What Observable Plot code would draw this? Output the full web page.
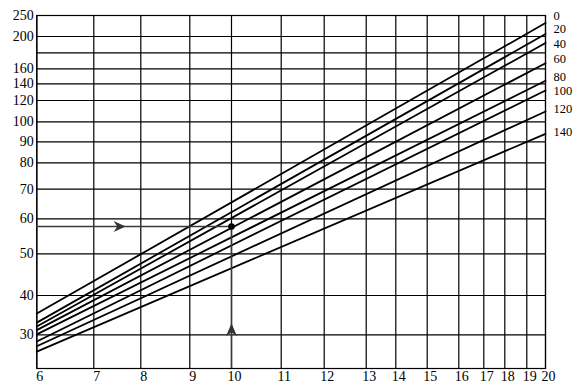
<!DOCTYPE html>
<html><head><meta charset="utf-8">
<script src="https://cdn.jsdelivr.net/npm/d3@7"></script>
<script src="https://cdn.jsdelivr.net/npm/@observablehq/plot@0.6"></script>
<style>html,body{margin:0;padding:0;background:#fff} svg{display:block}</style>
</head><body><div id="chart"></div>
<script>
// tick labels / grid values
const xTicks = [6,7,8,9,10,11,12,13,14,15,16,17,18,19,20];
const yTicks = [30,40,50,60,70,80,90,100,120,140,160,200,250];
const yGrid  = [30,40,50,60,70,80,90,100,120,140,160,180,200,250];
const yMin = 25, yMax = 250;
// series (lines labelled on the right), values at x=6 and x=20
const seriesNames = ["0","20","40","60","80","100","120","140"];
const startValues = [35.4, 33.1, 32.1, 31.2, 30.1, 29.0, 28.3, 27.5];
const endValues   = [232, 206, 192, 167, 144, 132, 109.7, 94];
// where each series name sits on the right edge (value units)
const labelValues = [248.8, 216.7, 191.4, 172.5, 149.7, 131.6, 112.2, 94.8];
// reading example
const readX = 10, readY = 57.8;
const arrowHeadX = 7.55, arrowHeadY = 31.3;

const xStart = xTicks[0], xEnd = xTicks[xTicks.length - 1];
const rows = seriesNames.flatMap((s, i) => [
  {s, x: xStart, y: startValues[i]},
  {s, x: xEnd, y: endValues[i]}
]);

const arrowRight = {draw(ctx, size){ const r = Math.sqrt(size/Math.PI);
  ctx.moveTo(r,0); ctx.lineTo(-r,-0.9*r); ctx.lineTo(-0.4*r,0); ctx.lineTo(-r,0.9*r); ctx.closePath(); }};
const arrowUp = {draw(ctx, size){ const r = Math.sqrt(size/Math.PI);
  ctx.moveTo(0,-r); ctx.lineTo(0.85*r,r); ctx.lineTo(0,0.4*r); ctx.lineTo(-0.85*r,r); ctx.closePath(); }};

const chart = Plot.plot({
  width: 588, height: 389,
  marginLeft: 36.3, marginRight: 43, marginTop: 15, marginBottom: 21,
  style: {fontFamily: "'Liberation Serif', 'DejaVu Serif', serif", fontSize: "14px", color: "#000", background: "#fff"},
  x: {type: "linear", domain: xTicks, range: [36.3,93.3,140.3,189.3,231,280.7,323.7,365.7,395.3,426.7,458.3,483.3,504.3,526.3,545]},
  y: {type: "linear", domain: [yMin, ...yGrid], range: [368,334.3,295,253.3,218.3,188.7,162.3,141.3,121.3,100,83.3,68.3,52.3,36,15]},
  marks: [
    Plot.ruleX(xTicks, {stroke: "#000", strokeWidth: 1.2}),
    Plot.ruleY(yGrid, {stroke: "#000", strokeWidth: 1.2}),
    Plot.frame({stroke: "#000", strokeWidth: 1.2}),
    Plot.line(rows, {x: "x", y: "y", z: "s", stroke: "#000", strokeWidth: 1.8}),
    Plot.line([{x: xStart, y: readY}, {x: readX, y: readY}], {x: "x", y: "y", stroke: "#3a3a3a", strokeWidth: 1.5}),
    Plot.ruleX([readX], {y1: yMin, y2: readY, stroke: "#3a3a3a", strokeWidth: 1.5}),
    Plot.dot([{x: arrowHeadX, y: readY}], {x: "x", y: "y", symbol: arrowRight, r: 6, fill: "#333", stroke: "none"}),
    Plot.dot([{x: readX, y: arrowHeadY}], {x: "x", y: "y", symbol: arrowUp, r: 6.5, fill: "#333", stroke: "none"}),
    Plot.dot([{x: readX, y: readY}], {x: "x", y: "y", r: 3.3, fill: "#000"}),
    Plot.text(seriesNames, {x: () => xEnd, y: (d, i) => labelValues[i], text: d => d, textAnchor: "start", dx: 8, fontSize: 12.5, fill: "#000"}),
    Plot.axisX({ticks: xTicks, tickSize: 0, tickPadding: 3, dx: 3, tickFormat: d => String(d), label: null, fill: "#000"}),
    Plot.axisY({ticks: yTicks, tickSize: 0, tickPadding: 3, tickFormat: d => String(d), label: null, fill: "#000"})
  ]
});
document.getElementById("chart").appendChild(chart);
</script>
</body></html>
